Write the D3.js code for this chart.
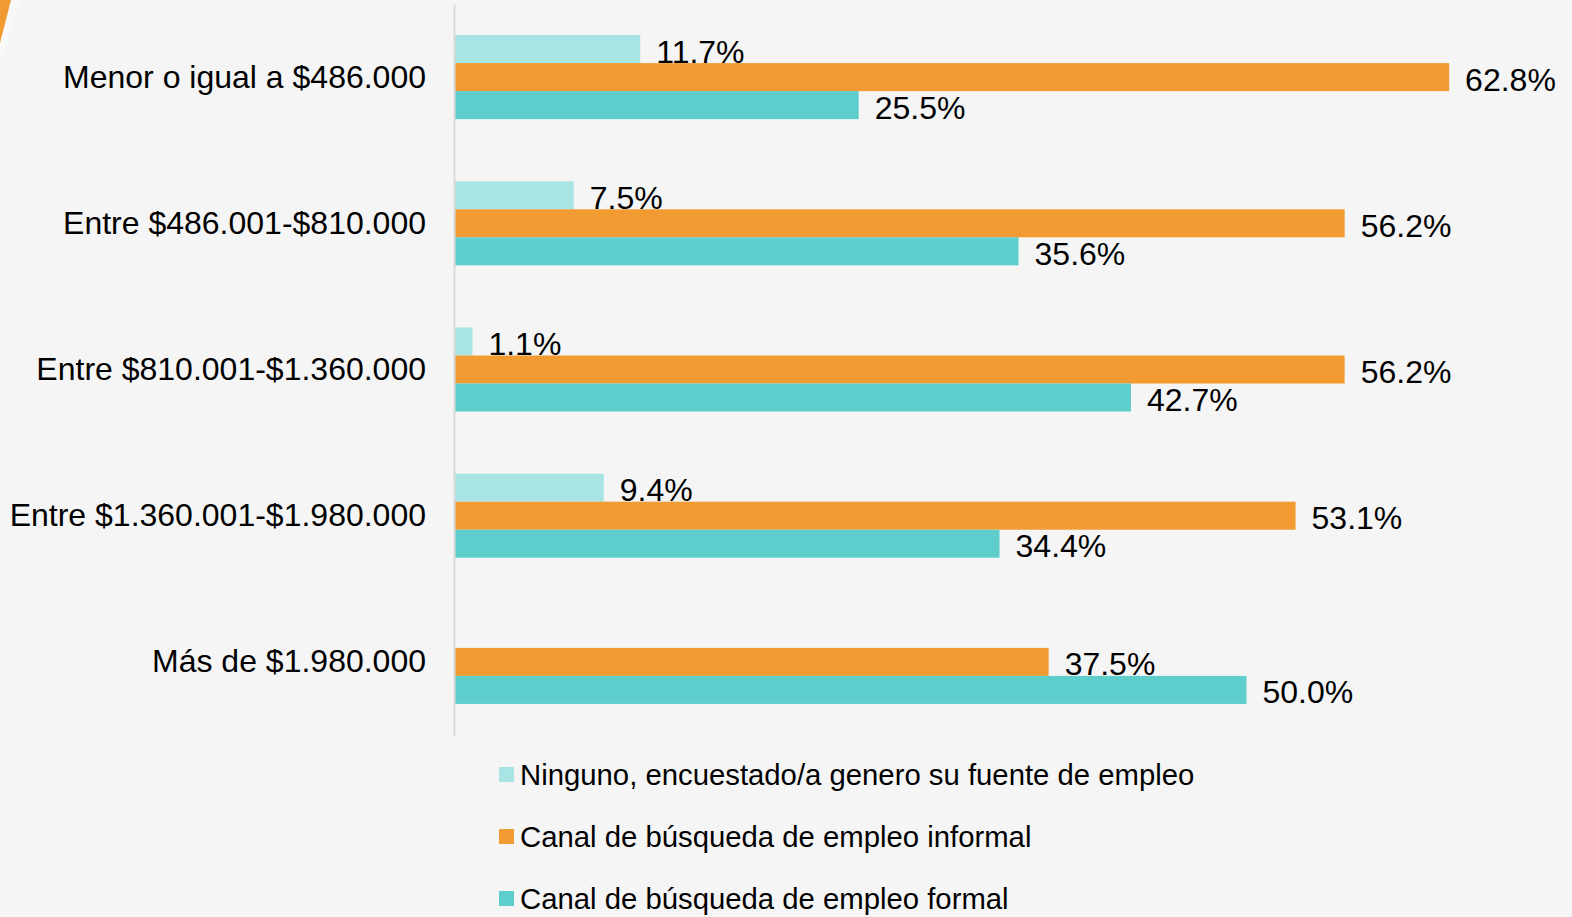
<!DOCTYPE html>
<html>
<head>
<meta charset="utf-8">
<script src="https://cdn.jsdelivr.net/npm/d3@7"></script>
<style>
    html, body { margin: 0; padding: 0; background: #f5f5f5; }
    svg { display: block; font-family: "Liberation Sans", Arial, sans-serif; }
</style>
</head>
<body>
<div id="main"></div>
<script>
const ctx = {
    SVG_W: 1572,
    SVG_H: 917,
};

// income brackets (y axis)
const categories = [
    "Menor o igual a $486.000",
    "Entre $486.001-$810.000",
    "Entre $810.001-$1.360.000",
    "Entre $1.360.001-$1.980.000",
    "Más de $1.980.000",
];

// series, in the order they are stacked inside each group
const seriesNames = [
    "Ninguno, encuestado/a genero su fuente de empleo",
    "Canal de búsqueda de empleo informal",
    "Canal de búsqueda de empleo formal",
];
const seriesColors = ["#a8e4e4", "#f29b33", "#5ececd"];

const ninguno = [11.7, 7.5, 1.1, 9.4, null];
const informal = [62.8, 56.2, 56.2, 53.1, 37.5];
const formal = [25.5, 35.6, 42.7, 34.4, 50.0];
const seriesValues = [ninguno, informal, formal];

function createViz() {
    let svgEl = d3.select("#main").append("svg")
        .attr("width", ctx.SVG_W)
        .attr("height", ctx.SVG_H);

    svgEl.append("rect")
        .attr("width", ctx.SVG_W)
        .attr("height", ctx.SVG_H)
        .attr("fill", "#f5f5f5");

    // decorative slanted stripe in the top-left corner
    svgEl.append("path")
        .attr("d", "M12,0 L20,0 L2,60 L0,60 L0,42 Z")
        .attr("fill", "#ffffff")
        .attr("opacity", 0.35);
    svgEl.append("path")
        .attr("d", "M0,0 L11,0 L0,43 Z")
        .attr("fill", "#f29b33");

    // scales
    let x = d3.scaleLinear().domain([0, 70]).range([455, 455 + 70 * 15.83]);
    let y0 = d3.scaleBand()
        .domain(categories)
        .range([4, 735])
        .paddingInner(0.425)
        .paddingOuter(0.2125);
    let y1 = d3.scaleBand()
        .domain(seriesNames)
        .range([0, y0.bandwidth()]);

    // bars + value labels, one series at a time so later bars overlap earlier labels
    seriesNames.forEach(function (name, si) {
        let rows = categories.map(function (c, i) {
            return { cat: c, value: seriesValues[si][i] };
        }).filter(function (d) { return d.value != null; });

        let g = svgEl.append("g").attr("class", "series s" + si);
        g.selectAll("rect")
            .data(rows)
            .enter()
            .append("rect")
            .attr("x", x(0))
            .attr("y", function (d) { return y0(d.cat) + y1(name); })
            .attr("width", function (d) { return x(d.value) - x(0); })
            .attr("height", y1.bandwidth())
            .attr("fill", seriesColors[si]);

        g.selectAll("text")
            .data(rows)
            .enter()
            .append("text")
            .attr("x", function (d) { return x(d.value) + 16; })
            .attr("y", function (d) { return y0(d.cat) + y1(name) + y1.bandwidth() / 2 + 13.5; })
            .attr("font-size", 32)
            .attr("fill", "#000")
            .text(function (d) { return d.value.toFixed(1) + "%"; });
    });

    // category axis
    let axis = svgEl.append("g")
        .attr("transform", "translate(454,0)")
        .call(d3.axisLeft(y0).tickSize(0).tickSizeOuter(0).tickPadding(28));
    axis.select(".domain")
        .attr("stroke", "#d9d9d9")
        .attr("stroke-width", 2);
    axis.selectAll("text")
        .attr("font-family", "'Liberation Sans', Arial, sans-serif")
        .attr("font-size", 32)
        .attr("fill", "#000")
        .attr("dy", "0.33em");

    // legend
    let legend = svgEl.append("g")
        .selectAll("g")
        .data(seriesNames)
        .enter()
        .append("g")
        .attr("transform", function (d, i) { return "translate(499," + (774.5 + i * 62) + ")"; });
    legend.append("rect")
        .attr("x", 0)
        .attr("y", -7.5)
        .attr("width", 15)
        .attr("height", 15)
        .attr("fill", function (d, i) { return seriesColors[i]; });
    legend.append("text")
        .attr("x", 21)
        .attr("y", 10)
        .attr("font-size", 29.3)
        .attr("fill", "#000")
        .text(function (d) { return d; });
}

createViz();
</script>
</body>
</html>
